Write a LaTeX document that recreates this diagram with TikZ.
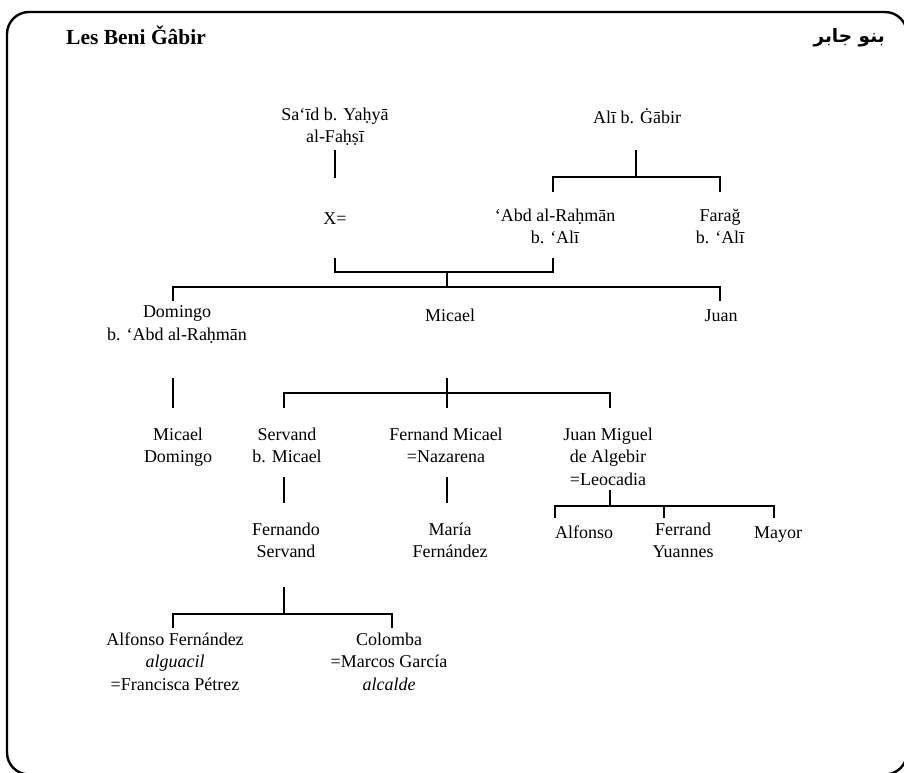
\documentclass[tikz,border=0pt]{standalone}
\usepackage{fontspec}
\setmainfont{Liberation Serif}
\newfontfamily\arabicfont[Script=Arabic]{DejaVu Sans}
\TeXXeTstate=1
\newcommand\pfont{\fontsize{18}{22.5}\selectfont}
\tikzset{
  person/.style={align=center, inner sep=0pt, anchor=north, font=\pfont, execute at begin node=\strut},
  tree/.style={line width=1.9pt},
  frame/.style={line width=2.4pt, rounded corners=22pt},
}
\begin{document}
\begin{tikzpicture}[x=1pt,y=-1pt]
\useasboundingbox (0,0) rectangle (904,772);
\clip (0,0) rectangle (904,772);
\fill[white] (0,0) rectangle (904,772);
\draw[frame] (7,12) rectangle (907,774.5);

% titles
\node[anchor=base west, inner sep=0pt, font=\fontsize{21.5}{25}\selectfont\bfseries] (title) at (66,44) {Les Beni Ǧâbir};
\node[anchor=base east, inner sep=0pt] (arabic) at (885,42) {\arabicfont\bfseries\fontsize{18.5}{22}\selectfont\beginR بنو جابر\endR};

% generation 1
\node[person] (said) at (335,107.5) {Sa‘īd b. Yaḥyā\\al-Faḥṣī};
\node[person] (ali) at (637,107.5) {Alī b. Ġābir};
% generation 2
\node[person] (xeq) at (335,208.5) {X=};
\node[person] (abd) at (555,208.5) {‘Abd al-Raḥmān\\b. ‘Alī};
\node[person] (farag) at (720,208.5) {Farağ\\b. ‘Alī};
% generation 3
\node[person] (domingo) at (177,305.5) {Domingo\\b. ‘Abd al-Raḥmān};
\node[person] (micael) at (450,305.5) {Micael};
\node[person] (juan) at (721,305.5) {Juan};
% generation 4
\node[person] (micaeld) at (178,427.5) {Micael\\Domingo};
\node[person] (servand) at (287,427.5) {Servand\\b. Micael};
\node[person] (fernand) at (446,427.5) {Fernand Micael\\=Nazarena};
\node[person] (juanmiguel) at (608,427.5) {Juan Miguel\\de Algebir\\=Leocadia};
% generation 5
\node[person] (fernando) at (286,522.5) {Fernando\\Servand};
\node[person] (maria) at (450,522.5) {María\\Fernández};
\node[person] (alfonso) at (584,522.5) {Alfonso};
\node[person] (ferrand) at (683,522.5) {Ferrand\\Yuannes};
\node[person] (mayor) at (778,522.5) {Mayor};
% generation 6
\node[person] (alfonsof) at (175,632.5) {Alfonso Fernández\\\textit{alguacil}\\=Francisca Pétrez};
\node[person] (colomba) at (389,632.5) {Colomba\\=Marcos García\\\textit{alcalde}};

% connector points
\coordinate (said-d) at (335,150);
\coordinate (xeq-u) at (335,178);
\coordinate (ali-d) at (636,150);
\coordinate (ali-j) at (636,177);
\coordinate (abd-u) at (553,192);
\coordinate (farag-u) at (720,192);
\coordinate (xeq-d) at (335,258);
\coordinate (abd-d) at (553,258);
\coordinate (cpl-j) at (447,272);
\coordinate (micael-j) at (447,287);
\coordinate (domingo-u) at (173,301);
\coordinate (juan-u) at (720,301);
\coordinate (domingo-d) at (173,378);
\coordinate (micaeld-u) at (173,408);
\coordinate (micael-d) at (447,378);
\coordinate (micael-c) at (447,393);
\coordinate (fernand-u) at (447,408);
\coordinate (servand-u) at (284,408);
\coordinate (juanmiguel-u) at (610,408);
\coordinate (servand-d) at (284,477);
\coordinate (fernando-u) at (284,503);
\coordinate (fernand-d) at (447,477);
\coordinate (maria-u) at (447,503);
\coordinate (juanmiguel-d) at (610,490);
\coordinate (juanmiguel-c) at (610,506);
\coordinate (alfonso-u) at (555,518);
\coordinate (ferrand-u) at (664,518);
\coordinate (mayor-u) at (774,518);
\coordinate (fernando-d) at (284,587);
\coordinate (fernando-c) at (284,614);
\coordinate (alfonsof-u) at (173,628);
\coordinate (colomba-u) at (392,628);

% connectors
\draw[tree] (said-d) -- (xeq-u);
\draw[tree] (ali-d) -- (ali-j);
\draw[tree] (abd-u) |- (ali-j) -| (farag-u);
\draw[tree] (xeq-d) |- (cpl-j) -| (abd-d);
\draw[tree] (cpl-j) -- (micael-j);
\draw[tree] (domingo-u) |- (micael-j) -| (juan-u);
\draw[tree] (domingo-d) -- (micaeld-u);
\draw[tree] (micael-d) -- (fernand-u);
\draw[tree] (servand-u) |- (micael-c) -| (juanmiguel-u);
\draw[tree] (servand-d) -- (fernando-u);
\draw[tree] (fernand-d) -- (maria-u);
\draw[tree] (juanmiguel-d) -- (juanmiguel-c);
\draw[tree] (alfonso-u) |- (juanmiguel-c) -| (mayor-u);
\draw[tree] (ferrand-u) -- (ferrand-u |- juanmiguel-c);
\draw[tree] (fernando-d) -- (fernando-c);
\draw[tree] (alfonsof-u) |- (fernando-c) -| (colomba-u);
\end{tikzpicture}
\end{document}
